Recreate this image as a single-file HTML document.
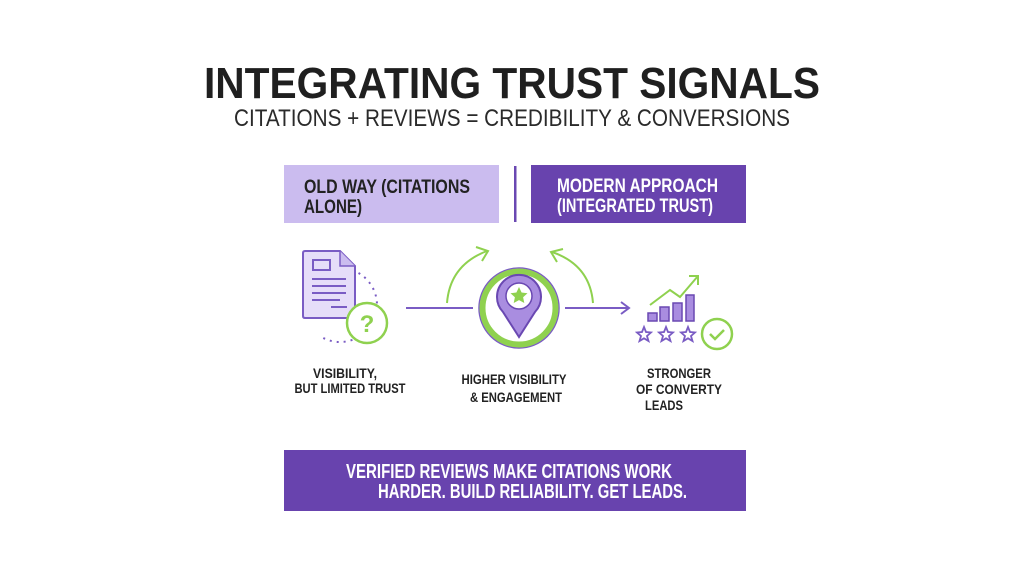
<!DOCTYPE html>
<html><head><meta charset="utf-8"><style>
html,body{margin:0;padding:0;background:#fff;}
svg{display:block;}
text{font-family:"Liberation Sans",sans-serif;}
</style></head><body>
<svg width="1024" height="576" viewBox="0 0 1024 576">
<rect width="1024" height="576" fill="#fff"/>
<text x="512" y="98" text-anchor="middle" font-size="44" font-weight="bold" fill="#1f1f1f" textLength="616" lengthAdjust="spacingAndGlyphs">INTEGRATING TRUST SIGNALS</text>
<text x="512" y="126" text-anchor="middle" font-size="24" fill="#2a2a2a" textLength="556" lengthAdjust="spacingAndGlyphs">CITATIONS + REVIEWS = CREDIBILITY &amp; CONVERSIONS</text>

<rect x="284" y="165" width="215" height="58" fill="#cbbcef"/>
<text x="304" y="193" font-size="19" font-weight="bold" fill="#222" textLength="166" lengthAdjust="spacingAndGlyphs">OLD WAY (CITATIONS</text>
<text x="304" y="213" font-size="19" font-weight="bold" fill="#222" textLength="58" lengthAdjust="spacingAndGlyphs">ALONE)</text>
<rect x="514" y="166" width="2.5" height="56" fill="#6a48b2"/>
<rect x="531" y="165" width="215" height="58" fill="#6843ae"/>
<text x="557" y="192" font-size="19" font-weight="bold" fill="#fff" textLength="161" lengthAdjust="spacingAndGlyphs">MODERN APPROACH</text>
<text x="557" y="212" font-size="19" font-weight="bold" fill="#fff" textLength="156" lengthAdjust="spacingAndGlyphs">(INTEGRATED TRUST)</text>

<!-- document -->
<path d="M358.5 273 A37 37 0 0 1 377 305 A37 37 0 0 1 340 342 A37 37 0 0 1 321.5 337" fill="none" stroke="#7a5cc4" stroke-width="2" stroke-dasharray="2 5"/>
<path d="M303 253 Q303 251 305 251 L340 251 L355 266 L355 316 Q355 318 353 318 L305 318 Q303 318 303 316 Z" fill="#e6ddf9" stroke="#7a5cc4" stroke-width="2"/>
<path d="M340 251 L340 266 L355 266" fill="#cbbcef" stroke="#7a5cc4" stroke-width="1.5"/>
<rect x="313" y="260" width="17" height="10" fill="none" stroke="#7a5cc4" stroke-width="2"/>
<g stroke="#7a5cc4" stroke-width="2"><line x1="312" y1="279" x2="346" y2="279"/><line x1="312" y1="286" x2="346" y2="286"/><line x1="312" y1="293" x2="346" y2="293"/><line x1="312" y1="300" x2="340" y2="300"/><line x1="331" y1="307" x2="347" y2="307"/></g>
<circle cx="367" cy="323" r="20" fill="#fff" stroke="#8fd14f" stroke-width="2.5"/>
<text x="367" y="332" text-anchor="middle" font-size="24" font-weight="bold" fill="#8fd14f">?</text>

<line x1="406" y1="308" x2="473" y2="308" stroke="#7a5cc4" stroke-width="2"/>
<line x1="565" y1="308" x2="628" y2="308" stroke="#7a5cc4" stroke-width="2"/>
<path d="M621 302 L629 308 L621 314" fill="none" stroke="#7a5cc4" stroke-width="2"/>

<!-- arrows -->
<path d="M447 303 Q450 265 487 251" fill="none" stroke="#8fd14f" stroke-width="2"/>
<path d="M476 247 L488 251 L482 261" fill="none" stroke="#8fd14f" stroke-width="2"/>
<path d="M593 303 Q590 265 552 252" fill="none" stroke="#8fd14f" stroke-width="2"/>
<path d="M557 262 L551 252 L563 249" fill="none" stroke="#8fd14f" stroke-width="2"/>

<!-- pin -->
<circle cx="519" cy="308" r="40" fill="#fff" stroke="#7a5cc4" stroke-width="1.5"/>
<circle cx="519" cy="308" r="36.5" fill="#fff" stroke="#8fd14f" stroke-width="6"/>
<path d="M519 337 L503 312 A22 22 0 1 1 535 312 Z" fill="#a98de0" stroke="#6a48b2" stroke-width="2"/>
<circle cx="519" cy="296" r="13" fill="#fff" stroke="#6a48b2" stroke-width="1.5"/>
<polygon points="519,287 521.6,292.5 527.5,293.2 523.1,297.2 524.3,303 519,300.1 513.7,303 514.9,297.2 510.5,293.2 516.4,292.5" fill="#8fd14f"/>

<!-- chart -->
<g fill="#a98de0" stroke="#6a48b2" stroke-width="1.5">
<rect x="648" y="313" width="9" height="8"/><rect x="660" y="307" width="9" height="14"/><rect x="673" y="303" width="9" height="18"/><rect x="686" y="295" width="8" height="26"/></g>
<path d="M650 305 L670 290 L680 297 L698 276" fill="none" stroke="#8fd14f" stroke-width="2"/>
<path d="M689 276 L698 276 L698 285" fill="none" stroke="#8fd14f" stroke-width="2"/>
<g fill="none" stroke="#7a5cc4" stroke-width="1.8">
<polygon points="644,327 646,332 651,332.5 647,336 648.5,341 644,338.3 639.5,341 641,336 637,332.5 642,332"/>
<polygon points="666,327 668,332 673,332.5 669,336 670.5,341 666,338.3 661.5,341 663,336 659,332.5 664,332"/>
<polygon points="688,327 690,332 695,332.5 691,336 692.5,341 688,338.3 683.5,341 685,336 681,332.5 686,332"/>
</g>
<circle cx="717" cy="334" r="15" fill="#fff" stroke="#8fd14f" stroke-width="2.5"/>
<path d="M710 334 L715 339 L724 330" fill="none" stroke="#8fd14f" stroke-width="2.5"/>

<!-- labels -->
<g font-size="14" font-weight="bold" fill="#222" text-anchor="middle">
<text x="345" y="378" textLength="64" lengthAdjust="spacingAndGlyphs">VISIBILITY,</text>
<text x="350" y="393" textLength="111" lengthAdjust="spacingAndGlyphs">BUT LIMITED TRUST</text>
<text x="514" y="384" textLength="105" lengthAdjust="spacingAndGlyphs">HIGHER VISIBILITY</text>
<text x="516" y="402" textLength="92" lengthAdjust="spacingAndGlyphs">&amp; ENGAGEMENT</text>
<text x="679" y="378" textLength="64" lengthAdjust="spacingAndGlyphs">STRONGER</text>
<text x="679" y="394" textLength="86" lengthAdjust="spacingAndGlyphs">OF CONVERTY</text>
<text x="664" y="410" textLength="38" lengthAdjust="spacingAndGlyphs">LEADS</text>
</g>

<rect x="284" y="450" width="462" height="61" fill="#6843ae"/>
<text x="346" y="478" font-size="20" font-weight="bold" fill="#fff" textLength="326" lengthAdjust="spacingAndGlyphs">VERIFIED REVIEWS MAKE CITATIONS WORK</text>
<text x="378" y="498" font-size="20" font-weight="bold" fill="#fff" textLength="309" lengthAdjust="spacingAndGlyphs">HARDER. BUILD RELIABILITY. GET LEADS.</text>
</svg>
</body></html>
